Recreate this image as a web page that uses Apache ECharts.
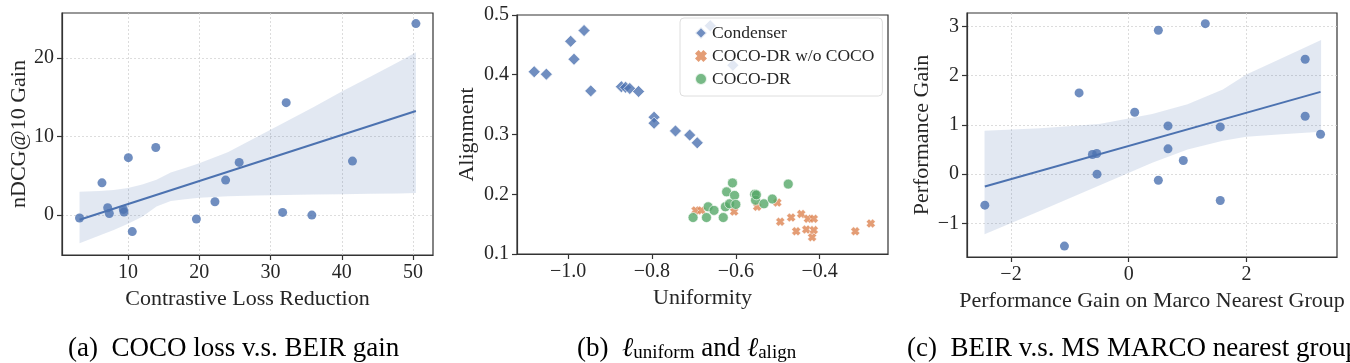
<!DOCTYPE html>
<html><head><meta charset="utf-8">
<script src="https://cdn.jsdelivr.net/npm/echarts@6/dist/echarts.min.js"></script>
<style>html,body{margin:0;padding:0;background:#fff}#c{width:1350px;height:363px}</style>
</head><body><div id="c"></div>
<script>
// ---------- Panel (a): COCO loss vs BEIR gain ----------
const lossReduction = [3.2, 6.35, 7.15, 7.38, 9.35, 9.44, 10.05, 10.6, 13.9, 19.6, 22.2, 23.7, 25.6, 31.7, 32.2, 35.8, 41.5, 50.4];
const ndcgGain      = [-0.38, 4.1, 0.93, 0.2, 0.72, 0.38, 7.3, -2.1, 8.6, -0.5, 1.7, 4.45, 6.7, 0.34, 14.3, 0.0, 6.86, 24.35];
const bandAX  = [3.2, 6, 8, 10, 12, 14, 16, 18, 20, 24, 28, 32, 36, 40, 44, 48, 50.4];
const bandAHi = [2.95, 3.05, 3.2, 3.45, 3.9, 4.5, 5.4, 6.0, 6.6, 8.0, 9.9, 11.8, 13.7, 15.7, 17.6, 19.5, 20.7];
const bandALo = [-3.6, -2.6, -1.9, -1.1, -0.2, 1.1, 1.8, 2.0, 2.2, 2.4, 2.5, 2.55, 2.6, 2.65, 2.7, 2.75, 2.8];
const ticksAX = [10, 20, 30, 40, 50];
const ticksAY = [0, 10, 20];

// ---------- Panel (b): uniformity vs alignment ----------
const condenserU = [-1.081, -1.052, -0.994, -0.986, -0.962, -0.946, -0.873, -0.863, -0.853, -0.832, -0.795, -0.795, -0.744, -0.710, -0.692, -0.661, -0.607];
const condenserA = [0.405, 0.401, 0.456, 0.426, 0.474, 0.373, 0.380, 0.379, 0.377, 0.372, 0.329, 0.319, 0.306, 0.299, 0.286, 0.482, 0.416];
const woCocoU = [-0.696, -0.682, -0.604, -0.549, -0.501, -0.494, -0.468, -0.456, -0.444, -0.432, -0.428, -0.418, -0.414, -0.414, -0.315, -0.278];
const woCocoA = [0.173, 0.173, 0.171, 0.179, 0.186, 0.154, 0.161, 0.138, 0.167, 0.141, 0.159, 0.128, 0.140, 0.159, 0.138, 0.151];
const cocoU = [-0.702, -0.670, -0.666, -0.652, -0.630, -0.625, -0.622, -0.615, -0.608, -0.603, -0.600, -0.555, -0.553, -0.551, -0.533, -0.513, -0.475];
const cocoA = [0.161, 0.161, 0.179, 0.173, 0.161, 0.179, 0.204, 0.184, 0.219, 0.198, 0.183, 0.200, 0.190, 0.199, 0.184, 0.192, 0.217];
const ticksBX = [-1.0, -0.8, -0.6, -0.4];
const ticksBY = [0.1, 0.2, 0.3, 0.4, 0.5];
const seriesNamesB = ['Condenser', 'COCO-DR w/o COCO', 'COCO-DR'];

// ---------- Panel (c): BEIR vs MS MARCO nearest group ----------
const marcoGain = [-2.445, -1.092, -0.843, -0.617, -0.543, -0.538, 0.102, 0.504, 0.504, 0.668, 0.668, 0.928, 1.302, 1.556, 1.556, 2.999, 2.999, 3.26];
const beirGain  = [-0.628, -1.459, 1.649, 0.399, 0.419, 0.0, 1.257, 2.919, -0.122, 0.980, 0.514, 0.277, 3.054, 0.959, -0.534, 2.331, 1.176, 0.811];
const bandCX  = [-2.45, -1.5, -0.5, 0.4, 1.0, 1.6, 2.0, 2.6, 3.27];
const bandCHi = [0.88, 0.93, 1.02, 1.22, 1.42, 1.72, 2.02, 2.35, 2.72];
const bandCLo = [-1.22, -0.74, -0.23, 0.23, 0.5, 0.68, 0.76, 0.81, 0.86];
const ticksCX = [-2, 0, 2];
const ticksCY = [-1, 0, 1, 2, 3];

const captionA = '(a)  COCO loss v.s. BEIR gain';
const captionC = '(c)  BEIR v.s. MS MARCO nearest group';

// ---------- helpers ----------
const FONT = '"Liberation Serif", "Times New Roman", serif';
const INK = '#262626';
const BLUE = '#4c72b0', ORANGE = '#dd8452', GREEN = '#55a868';
const XPATH = 'path://M0,3 L3,0 L5,2 L7,0 L10,3 L8,5 L10,7 L7,10 L5,8 L3,10 L0,7 L2,5 Z';

const zip = (a, b) => a.map((v, i) => [v, b[i]]);
const minus = s => String(s).replace('-', '\u2212');

function fitLine(xs, ys) {
  const n = xs.length;
  const mx = xs.reduce((s, v) => s + v, 0) / n;
  const my = ys.reduce((s, v) => s + v, 0) / n;
  let sxy = 0, sxx = 0;
  for (let i = 0; i < n; i++) { sxy += (xs[i] - mx) * (ys[i] - my); sxx += (xs[i] - mx) ** 2; }
  const b = sxy / sxx, a = my - b * mx;
  const x0 = Math.min(...xs), x1 = Math.max(...xs);
  return [[x0, a + b * x0], [x1, a + b * x1]];
}

function band(idx, xs, lo, hi) {
  return {
    type: 'custom', xAxisIndex: idx, yAxisIndex: idx, silent: true, z: 1,
    data: [[xs[0], lo[0]]],
    renderItem: (params, api) => {
      const pts = [];
      for (let i = 0; i < xs.length; i++) pts.push(api.coord([xs[i], hi[i]]));
      for (let i = xs.length - 1; i >= 0; i--) pts.push(api.coord([xs[i], lo[i]]));
      return { type: 'polygon', shape: { points: pts }, style: { fill: 'rgba(76,114,176,0.16)' } };
    }
  };
}

function axis(gi, min, max, ticks, fmt, name, nameGap, grid) {
  return {
    type: 'value', gridIndex: gi, min, max, name, nameLocation: 'middle', nameGap,
    nameTextStyle: { fontFamily: FONT, fontSize: 22, color: INK },
    axisLine: { show: true, onZero: false, lineStyle: { color: '#333', width: 1.2 } },
    axisTick: { show: true, customValues: ticks, length: 5, lineStyle: { color: '#333', width: 1.2 } },
    axisLabel: { customValues: ticks, formatter: fmt, fontFamily: FONT, fontSize: 20, color: INK, margin: 8 },
    splitLine: { show: grid, lineStyle: { color: '#d4d4d4', width: 0.8, type: [2, 2] } }
  };
}

const scatterStyle = { color: BLUE, opacity: 0.8 };

const option = {
  backgroundColor: '#fff',
  animation: false,
  grid: [
    { left: 62, top: 13, width: 371, height: 242, show: true, borderColor: '#333', borderWidth: 1.2, backgroundColor: 'transparent' },
    { left: 517, top: 15, width: 371, height: 239, show: true, borderColor: '#333', borderWidth: 1.2, backgroundColor: 'transparent' },
    { left: 967, top: 13, width: 370, height: 244, show: true, borderColor: '#333', borderWidth: 1.2, backgroundColor: 'transparent' }
  ],
  xAxis: [
    axis(0, 0.74, 52.8, ticksAX, v => minus(v), 'Contrastive Loss Reduction', 26, true),
    axis(1, -1.122, -0.237, ticksBX, v => minus(v.toFixed(1)), 'Uniformity', 26, false),
    axis(2, -2.748, 3.54, ticksCX, v => minus(v), 'Performance Gain on Marco Nearest Group', 26, true)
  ],
  yAxis: [
    axis(0, -5.08, 25.7, ticksAY, v => minus(v), 'nDCG@10 Gain', 31, true),
    axis(1, 0.1, 0.5, ticksBY, v => minus(v.toFixed(1)), 'Alignment', 39, false),
    axis(2, -1.68, 3.27, ticksCY, v => minus(v), 'Performance Gain', 34, true)
  ],
  legend: {
    orient: 'vertical', left: 680, top: 18,
    itemWidth: 12, itemHeight: 12, itemGap: 5,
    padding: [6, 8, 8, 14],
    backgroundColor: 'rgba(255,255,255,0.8)', borderColor: '#dedede', borderWidth: 1, borderRadius: 4,
    textStyle: { fontFamily: FONT, fontSize: 17.5, color: INK },
    data: [
      { name: seriesNamesB[0], icon: 'diamond' },
      { name: seriesNamesB[1], icon: XPATH, itemStyle: { color: ORANGE, borderWidth: 0 } },
      { name: seriesNamesB[2], icon: 'circle' }
    ]
  },
  series: [
    band(0, bandAX, bandALo, bandAHi),
    { type: 'scatter', xAxisIndex: 0, yAxisIndex: 0, symbolSize: 9, itemStyle: scatterStyle, data: zip(lossReduction, ndcgGain), z: 3 },
    { type: 'line', xAxisIndex: 0, yAxisIndex: 0, showSymbol: false, lineStyle: { color: BLUE, width: 2 }, data: fitLine(lossReduction, ndcgGain), z: 4 },

    { name: seriesNamesB[0], type: 'scatter', xAxisIndex: 1, yAxisIndex: 1, symbol: 'diamond', symbolSize: 12,
      itemStyle: { color: BLUE, borderColor: '#fff', borderWidth: 0.8 }, data: zip(condenserU, condenserA) },
    { name: seriesNamesB[1], type: 'scatter', xAxisIndex: 1, yAxisIndex: 1, symbol: XPATH, symbolSize: 9,
      itemStyle: { color: ORANGE, borderColor: '#fff', borderWidth: 0.5 }, data: zip(woCocoU, woCocoA) },
    { name: seriesNamesB[2], type: 'scatter', xAxisIndex: 1, yAxisIndex: 1, symbol: 'circle', symbolSize: 10,
      itemStyle: { color: GREEN, borderColor: '#fff', borderWidth: 0.8 }, data: zip(cocoU, cocoA) },

    band(2, bandCX, bandCLo, bandCHi),
    { type: 'scatter', xAxisIndex: 2, yAxisIndex: 2, symbolSize: 9, itemStyle: scatterStyle, data: zip(marcoGain, beirGain), z: 3 },
    { type: 'line', xAxisIndex: 2, yAxisIndex: 2, showSymbol: false, lineStyle: { color: BLUE, width: 2 }, data: fitLine(marcoGain, beirGain), z: 4 }
  ],
  graphic: [
    { type: 'text', x: 68, y: 349, style: { text: captionA, font: '27px ' + FONT, fill: '#000', verticalAlign: 'middle' } },
    { type: 'text', x: 577, y: 349, style: {
        text: '(b)  {l|\u2113}{s|uniform} and {l|\u2113}{s|align}',
        font: '27px ' + FONT, fill: '#000', verticalAlign: 'middle',
        rich: {
          l: { fontFamily: FONT, fontSize: 27, fontStyle: 'italic', fill: '#000' },
          s: { fontFamily: FONT, fontSize: 19, fill: '#000', verticalAlign: 'bottom' }
        } } },
    { type: 'text', x: 907, y: 349, style: { text: captionC, font: '27px ' + FONT, fill: '#000', verticalAlign: 'middle' } }
  ]
};

const chart = echarts.init(document.getElementById('c'), null, { renderer: 'canvas' });
chart.setOption(option);
</script>
</body></html>
